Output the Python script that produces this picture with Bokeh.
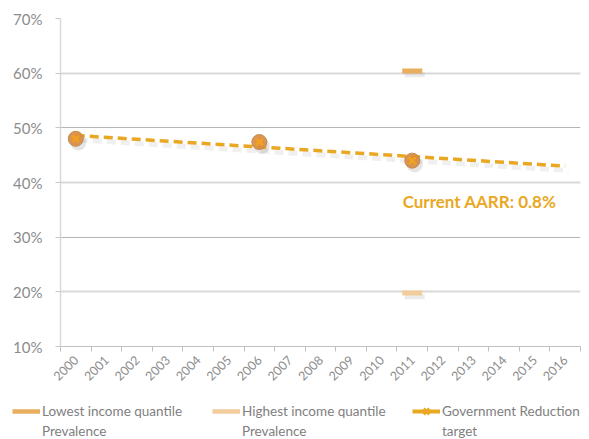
import numpy as np
from bokeh.plotting import figure
from bokeh.layouts import column, row
from bokeh.models import (Range1d, FixedTicker, NumeralTickFormatter, Grid, Legend,
                          LegendItem, Label)
from bokeh.embed import file_html
from bokeh.resources import INLINE

# ---- data ----
years = list(range(2000, 2017))
y_ticks = [0.1, 0.2, 0.3, 0.4, 0.5, 0.6, 0.7]
survey_years = [2000, 2006, 2011]
gov_target = [0.480, 0.474, 0.440]
trend_years = [2000, 2016]
trend_values = [0.486, 0.430]
lowest_years = [2011]
lowest_values = [0.604]
highest_years = [2011]
highest_values = [0.198]
aarr_text = "Current AARR: 0.8%"
aarr_pos = (2013.2, 0.365)
legend_line1 = ["Lowest income quantile", "Highest income quantile", "Government Reduction"]
legend_line2 = ["Prevalence", "Prevalence", "target"]

LOW_C = "#E9AE5E"
HIGH_C = "#F2CD9C"
GOV_C = "#E9A823"
FONT = "Lato"

p = figure(width=589, height=389, x_range=Range1d(1999.5, 2016.5),
           y_range=Range1d(0.1, 0.7), output_backend="svg", toolbar_location=None,
           min_border_left=60, min_border_right=9, min_border_top=18,
           min_border_bottom=43)
p.outline_line_color = None
p.background_fill_color = "white"
p.xgrid.visible = False
p.ygrid.visible = False

# gridlines: alternating shades
g1 = Grid(dimension=1, ticker=FixedTicker(ticks=[0.2, 0.4, 0.6]),
          grid_line_color="#d9d9d9", grid_line_width=2)
g2 = Grid(dimension=1, ticker=FixedTicker(ticks=[0.3, 0.5, 0.7]),
          grid_line_color="#b5b5b5", grid_line_width=1.2)
p.add_layout(g1)
p.add_layout(g2)

# x axis
xa = p.xaxis[0]
xa.ticker = FixedTicker(ticks=years, minor_ticks=[y - 0.5 for y in years] + [years[-1] + 0.5])
xa.formatter = NumeralTickFormatter(format="0")
xa.major_tick_out = 0
xa.major_tick_in = 0
xa.minor_tick_out = 5
xa.minor_tick_in = 0
xa.minor_tick_line_color = "#bfbfbf"
xa.axis_line_color = "#bfbfbf"
xa.axis_line_width = 1.2
xa.major_label_orientation = np.pi / 4
xa.major_label_text_font = FONT
xa.major_label_text_font_size = "12.5px"
xa.major_label_text_color = "#8c8c8c"
xa.major_label_standoff = 6

# y axis
ya = p.yaxis[0]
ya.ticker = FixedTicker(ticks=y_ticks)
ya.formatter = NumeralTickFormatter(format="0%")
ya.major_tick_out = 5
ya.major_tick_in = 0
ya.minor_tick_out = 0
ya.minor_tick_in = 0
ya.major_tick_line_color = "#c8c8c8"
ya.axis_line_color = "#d9d9d9"
ya.axis_line_width = 1.5
ya.major_label_text_font = FONT
ya.major_label_text_font_size = "15px"
ya.major_label_text_color = "#8c8c8c"
ya.major_label_standoff = 13

# shadows
p.line([x + 0.1 for x in trend_years], [v - 0.008 for v in trend_values],
       line_color="#000000", line_alpha=0.06, line_width=5, line_dash="9 5")
p.scatter([x + 0.08 for x in survey_years], [v - 0.007 for v in gov_target],
          marker="circle", size=16, fill_color="#000000", fill_alpha=0.1, line_color=None)
p.scatter([x + 0.08 for x in lowest_years], [v - 0.007 for v in lowest_values],
          marker="dash", size=20, line_width=5, line_color="#000000", line_alpha=0.08)
p.scatter([x + 0.08 for x in highest_years], [v - 0.007 for v in highest_values],
          marker="dash", size=20, line_width=5, line_color="#000000", line_alpha=0.08)

# trend line
p.line(trend_years, trend_values, line_color=GOV_C, line_width=3.5, line_dash="9 5")

# markers
p.scatter(survey_years, gov_target, marker="circle", size=15,
          fill_color="#D98B3E", fill_alpha=0.9, line_color="#C28A52", line_width=1)
p.scatter(survey_years, gov_target, marker="x", size=9,
          line_color="#F2A21C", line_width=2.5)

p.scatter(lowest_years, lowest_values, marker="dash", size=20, line_width=5,
          line_color=LOW_C)
p.scatter(highest_years, highest_values, marker="dash", size=20, line_width=5,
          line_color=HIGH_C)

# annotation
p.add_layout(Label(x=aarr_pos[0], y=aarr_pos[1], text=aarr_text, text_align="center",
                   text_baseline="middle", text_font=FONT, text_font_style="bold",
                   text_font_size="17px", text_color=GOV_C))

# ---- legend figure (series drawn out of its view, only their legend glyphs show) ----
lf = figure(width=589, height=50, x_range=Range1d(0, 1), y_range=Range1d(0, 1),
            output_backend="svg", toolbar_location=None,
            x_axis_location=None, y_axis_location=None,
            min_border_left=0, min_border_right=0, min_border_top=0, min_border_bottom=0)
lf.grid.visible = False
lf.outline_line_color = None

r_low = lf.line(x=lowest_years * 2, y=lowest_values * 2, line_color=LOW_C, line_width=4.5)
r_high = lf.line(x=highest_years * 2, y=highest_values * 2, line_color=HIGH_C, line_width=4.5)
r_gov = lf.line(x=survey_years, y=gov_target, line_color=GOV_C, line_width=4)
r_gov_x = lf.scatter(x=survey_years, y=gov_target, marker="x", size=9,
                     line_color=GOV_C, line_width=3)
r_blank = lf.line(x=survey_years, y=gov_target, line_alpha=0)

common = dict(orientation="horizontal", glyph_width=28, label_standoff=2,
              label_width=160, spacing=10, padding=0, margin=0,
              border_line_color=None, background_fill_alpha=0,
              label_text_font=FONT, label_text_font_size="13.5px",
              label_text_color="#808080")

legend1 = Legend(items=[LegendItem(label=legend_line1[0], renderers=[r_low]),
                        LegendItem(label=legend_line1[1], renderers=[r_high]),
                        LegendItem(label=legend_line1[2], renderers=[r_gov, r_gov_x])],
                 location=(12, 18), glyph_height=20, **common)
legend2 = Legend(items=[LegendItem(label=t, renderers=[r_blank]) for t in legend_line2],
                 location=(12, 0), glyph_height=14, **common)
lf.add_layout(legend1, "center")
lf.add_layout(legend2, "center")

layout = column(p, row(lf), spacing=0)
open("out.html", "w").write(file_html(layout, INLINE))
